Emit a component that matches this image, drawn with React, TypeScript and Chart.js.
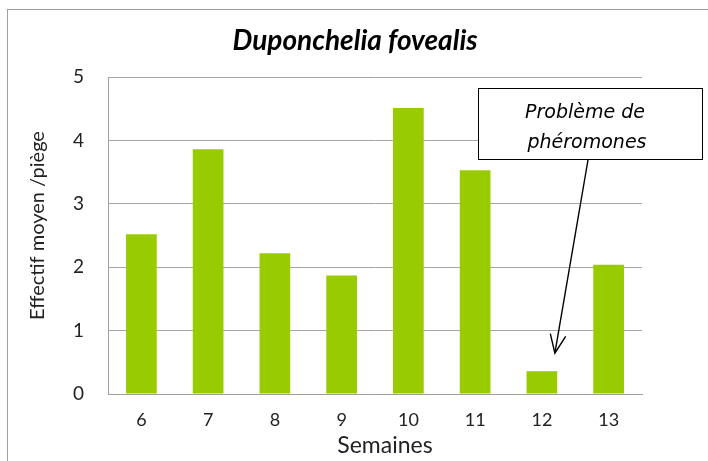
import React, { useEffect, useRef } from "react";
import { Chart, registerables } from "chart.js";

Chart.register(...registerables);

const weeks = ["6", "7", "8", "9", "10", "11", "12", "13"];
const meanCounts = [2.52, 3.86, 2.22, 1.87, 4.51, 3.53, 0.36, 2.04];
const yTicks = [0, 1, 2, 3, 4, 5];
const titleText = "Duponchelia fovealis";
const yTitle = "Effectif moyen /piège";
const xTitle = "Semaines";
const noteLines = ["Problème de", "phéromones"];
const noteIndex = 6;

const FONT = "Lato, 'Open Sans', sans-serif";
const NOTE_FONT = "'DejaVu Sans', Verdana, sans-serif";

const textPlugin = {
  id: "texts",
  afterDraw(chart: any) {
    const ctx = chart.ctx;
    const a = chart.chartArea;
    ctx.save();
    ctx.textAlign = "center";
    ctx.textBaseline = "middle";
    ctx.fillStyle = "#000000";
    ctx.font = "italic bold 28px " + FONT;
    ctx.fillText(titleText, chart.width / 2 + 1, 41);
    ctx.fillStyle = "#222222";
    ctx.font = "23px " + FONT;
    ctx.fillText(xTitle, (a.left + a.right) / 2 + 10, 446);
    ctx.translate(38, (a.top + a.bottom) / 2 - 10);
    ctx.rotate(-Math.PI / 2);
    ctx.font = "20px " + FONT;
    ctx.fillText(yTitle, 0, 0);
    ctx.restore();
  },
};

const notePlugin = {
  id: "note",
  afterDatasetsDraw(chart: any) {
    const ctx = chart.ctx;
    const x = chart.scales.x;
    const y = chart.scales.y;
    ctx.save();
    const bx = 478, by = 88, bw = 224, bh = 71;
    ctx.fillStyle = "#ffffff";
    ctx.fillRect(bx, by, bw, bh);
    ctx.strokeStyle = "#000000";
    ctx.lineWidth = 1;
    ctx.strokeRect(bx + 0.5, by + 0.5, bw, bh);
    ctx.fillStyle = "#000000";
    ctx.font = "italic 19px " + NOTE_FONT;
    ctx.textAlign = "center";
    ctx.textBaseline = "alphabetic";
    ctx.fillText(noteLines[0], bx + bw / 2 - 5, 118);
    ctx.fillText(noteLines[1], bx + bw / 2 - 3, 148);
    const tipX = x.getPixelForValue(noteIndex) + 13;
    const tipY = y.getPixelForValue(meanCounts[noteIndex]) - 18;
    const sx = 588, sy = by + bh + 1;
    ctx.lineWidth = 1.4;
    ctx.beginPath();
    ctx.moveTo(sx, sy);
    ctx.lineTo(tipX, tipY);
    ctx.stroke();
    const ang = Math.atan2(tipY - sy, tipX - sx);
    const hl = 20;
    ctx.beginPath();
    ctx.moveTo(tipX + hl * Math.cos(ang + Math.PI - 0.4), tipY + hl * Math.sin(ang + Math.PI - 0.4));
    ctx.lineTo(tipX, tipY);
    ctx.lineTo(tipX + hl * Math.cos(ang + Math.PI + 0.4), tipY + hl * Math.sin(ang + Math.PI + 0.4));
    ctx.stroke();
    ctx.restore();
  },
};

const frameKeeper = {
  id: "frame",
  beforeDraw(chart: any) {
    const ctx = chart.ctx;
    ctx.save();
    ctx.fillStyle = "#ffffff";
    ctx.fillRect(0, 0, chart.width, chart.height);
    ctx.strokeStyle = "#a0a0a0";
    ctx.lineWidth = 1;
    ctx.strokeRect(7.5, 9.5, chart.width + 20, chart.height + 20);
    ctx.restore();
  },
};

export default function App() {
  const ref = useRef<HTMLCanvasElement | null>(null);
  useEffect(() => {
    if (!ref.current) return;
    const chart = new Chart(ref.current, {
      type: "bar",
      data: {
        labels: weeks,
        datasets: [
          {
            data: meanCounts,
            backgroundColor: "#99cc00",
            categoryPercentage: 1,
            barPercentage: 0.46,
          },
        ],
      },
      options: {
        animation: false,
        responsive: false,
        devicePixelRatio: 1,
        layout: { padding: { top: 77, left: 20, right: 66, bottom: 0 } },
        plugins: {
          legend: { display: false },
          tooltip: { enabled: false },
          title: { display: false },
        },
        scales: {
          x: {
            afterFit: (s: any) => {
              s.height = 67;
            },
            grid: { display: false, drawTicks: false },
            border: { display: true, color: "#a0a0a0", width: 1 },
            ticks: { color: "#222222", font: { family: FONT, size: 18 }, padding: 15 },
          },
          y: {
            min: 0,
            max: 5,
            afterFit: (s: any) => {
              s.width = 88;
            },
            afterBuildTicks: (s: any) => {
              s.ticks = yTicks.map((v) => ({ value: v }));
            },
            grid: { color: "#a6a6a6", lineWidth: 1, drawTicks: false },
            border: { display: true, color: "#a0a0a0", width: 1 },
            ticks: { color: "#222222", font: { family: FONT, size: 19 }, padding: 24 },
          },
        },
      },
      plugins: [frameKeeper, notePlugin, textPlugin],
    } as any);
    return () => chart.destroy();
  }, []);
  return (
    <div style={{ position: "fixed", left: 0, top: 0, width: 708, height: 461, overflow: "hidden", background: "#fff" }}>
      <canvas ref={ref} width={708} height={461} style={{ display: "block" }} />
    </div>
  );
}
